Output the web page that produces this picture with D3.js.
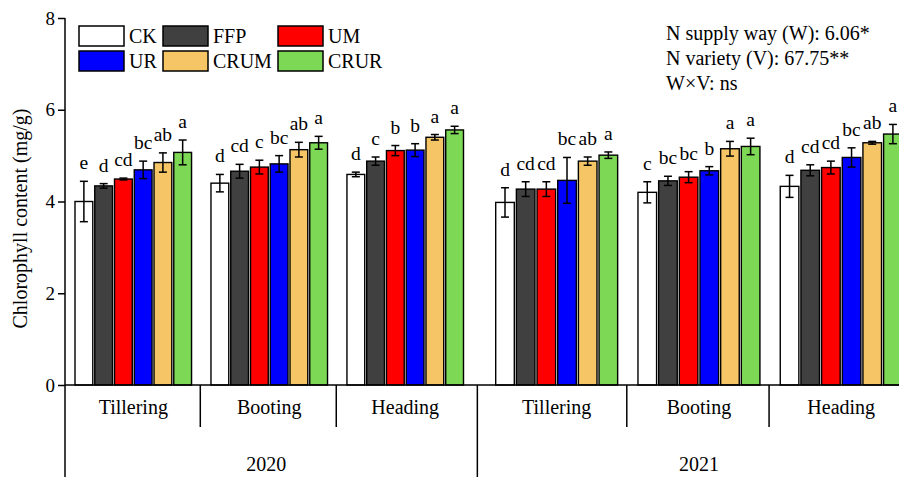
<!DOCTYPE html>
<html>
<head>
<meta charset="utf-8">
<script src="https://cdn.jsdelivr.net/npm/d3@7"></script>
<style>
  html, body { margin: 0; padding: 0; background: #fff; }
  svg { display: block; }
  text { font-family: "Liberation Serif", "Times New Roman", serif; fill: #000; }
</style>
</head>
<body>
<svg id="chart" width="899" height="477"></svg>
<script>
// Chlorophyll content by growth stage, nitrogen treatment and year
const years = ["2020", "2021"];
const stages = ["Tillering", "Booting", "Heading"];
const treatments = ["CK", "FFP", "UM", "UR", "CRUM", "CRUR"];
const colors = ["#ffffff", "#404040", "#ff0000", "#0000ff", "#f5c566", "#7dd856"];
const yTicks = [0, 2, 4, 6, 8];

// mean values (mg/g), rows = stages, columns = treatments
const mean2020 = [
  [4.00, 4.34, 4.49, 4.69, 4.85, 5.07],
  [4.40, 4.66, 4.75, 4.82, 5.13, 5.28],
  [4.59, 4.88, 5.11, 5.12, 5.40, 5.56]
];
const err2020 = [
  [0.44, 0.05, 0.02, 0.19, 0.21, 0.27],
  [0.19, 0.15, 0.15, 0.18, 0.16, 0.14],
  [0.05, 0.09, 0.11, 0.14, 0.06, 0.08]
];
const sig2020 = [
  ["e", "d", "cd", "bc", "ab", "a"],
  ["d", "cd", "c", "bc", "ab", "a"],
  ["d", "c", "b", "b", "a", "a"]
];
const mean2021 = [
  [3.98, 4.27, 4.27, 4.46, 4.88, 5.01],
  [4.20, 4.45, 4.53, 4.67, 5.15, 5.20],
  [4.33, 4.68, 4.74, 4.96, 5.28, 5.47]
];
const err2021 = [
  [0.32, 0.16, 0.16, 0.50, 0.09, 0.07],
  [0.23, 0.10, 0.12, 0.09, 0.16, 0.18],
  [0.24, 0.12, 0.14, 0.21, 0.03, 0.21]
];
const sig2021 = [
  ["d", "cd", "cd", "bc", "ab", "a"],
  ["c", "bc", "bc", "b", "a", "a"],
  ["d", "cd", "cd", "bc", "ab", "a"]
];
const statLines = ["N supply way (W): 6.06*", "N variety (V): 67.75**", "W\u00d7V: ns"];

const svg = d3.select("#chart");
const W = 899, H = 477;
const axisX = 65, baseY = 385;

const y = d3.scaleLinear().domain([0, 8]).range([baseY, 18]);

// each year has its own stage band scale
const yearRanges = [[75, 463.5], [495.7, 902.2]];
const stageScales = yearRanges.map(r =>
  d3.scaleBand().domain(stages).range(r).paddingInner(1 / 7).paddingOuter(0));

const yearData = [
  { year: years[0], mean: mean2020, err: err2020, sig: sig2020 },
  { year: years[1], mean: mean2021, err: err2021, sig: sig2021 }
];

const plot = svg.append("g");

yearData.forEach((yd, yi) => {
  const xs = stageScales[yi];
  const xt = d3.scaleBand().domain(treatments).range([0, xs.bandwidth()]).paddingInner(0.1);
  stages.forEach((st, si) => {
    const g = plot.append("g").attr("transform", `translate(${xs(st)},0)`);
    const rows = treatments.map((t, ti) => ({
      t, ti, v: yd.mean[si][ti], e: yd.err[si][ti], s: yd.sig[si][ti]
    }));
    // bars
    g.selectAll("rect.bar").data(rows).join("rect")
      .attr("class", "bar")
      .attr("x", d => xt(d.t))
      .attr("y", d => y(d.v))
      .attr("width", xt.bandwidth())
      .attr("height", d => baseY - y(d.v))
      .attr("fill", d => colors[d.ti])
      .attr("stroke", "#000")
      .attr("stroke-width", 1.4);
    // error bars
    const eb = g.selectAll("g.err").data(rows).join("g").attr("class", "err")
      .attr("transform", d => `translate(${xt(d.t) + xt.bandwidth() / 2},0)`);
    eb.append("line")
      .attr("y1", d => y(d.v - d.e)).attr("y2", d => y(d.v + d.e))
      .attr("stroke", "#000").attr("stroke-width", 1.5);
    eb.append("line")
      .attr("x1", -4).attr("x2", 4)
      .attr("y1", d => y(d.v + d.e)).attr("y2", d => y(d.v + d.e))
      .attr("stroke", "#000").attr("stroke-width", 1.5);
    eb.append("line")
      .attr("x1", -4).attr("x2", 4)
      .attr("y1", d => y(d.v - d.e)).attr("y2", d => y(d.v - d.e))
      .attr("stroke", "#000").attr("stroke-width", 1.5);
    // significance letters
    eb.append("text")
      .attr("y", d => y(d.v + d.e) - 12)
      .attr("text-anchor", "middle")
      .attr("font-size", 19.5)
      .text(d => d.s);
  });
});

// y axis
const yAxis = d3.axisLeft(y).tickValues(yTicks).tickSize(7).tickPadding(3).tickFormat(d3.format("d"));
const ya = svg.append("g").attr("transform", `translate(${axisX},0)`).call(yAxis);
ya.select(".domain").remove();
ya.selectAll(".tick line").attr("stroke", "#000").attr("stroke-width", 1.5);
ya.selectAll(".tick text")
  .attr("font-family", "Liberation Serif, Times New Roman, serif")
  .attr("font-size", 19).attr("fill", "#000");

svg.append("line")
  .attr("x1", axisX).attr("x2", axisX).attr("y1", y(8)).attr("y2", H)
  .attr("stroke", "#000").attr("stroke-width", 1.5);
svg.append("line")
  .attr("x1", axisX).attr("x2", W).attr("y1", baseY).attr("y2", baseY)
  .attr("stroke", "#000").attr("stroke-width", 1.5);

svg.append("text")
  .attr("transform", `translate(27,${(y(8) + baseY) / 2 + 17}) rotate(-90)`)
  .attr("text-anchor", "middle")
  .attr("font-size", 20)
  .text("Chlorophyll content (mg/g)");

// stage and year category labels with separators
const sepX = [];
stageScales.forEach((xs, yi) => {
  stages.forEach((st, si) => {
    const cx = xs(st) + xs.bandwidth() / 2;
    svg.append("text")
      .attr("x", cx).attr("y", 414)
      .attr("text-anchor", "middle").attr("font-size", 20)
      .text(st);
    if (si > 0) {
      const prevEnd = xs(stages[si - 1]) + xs.bandwidth();
      sepX.push({ x: prevEnd + (xs(st) - prevEnd) * 0.45, full: false });
    }
  });
  const mid = xs(stages[1]) + xs.bandwidth() / 2;
  svg.append("text")
    .attr("x", mid - (yi === 0 ? 3 : 0)).attr("y", 471)
    .attr("text-anchor", "middle").attr("font-size", 20)
    .text(years[yi]);
});
const gapL = stageScales[0].range()[1], gapR = stageScales[1].range()[0];
sepX.push({ x: gapL + (gapR - gapL) * 0.43, full: true });
svg.selectAll("line.sep").data(sepX).join("line")
  .attr("class", "sep")
  .attr("x1", d => d.x).attr("x2", d => d.x)
  .attr("y1", baseY).attr("y2", d => d.full ? H : 427)
  .attr("stroke", "#000").attr("stroke-width", 1.5);

// legend
const legendCols = [79, 163, 278];
const legendRows = [26, 51];
const lg = svg.append("g");
treatments.forEach((t, i) => {
  const cx = legendCols[i % 3], ry = legendRows[Math.floor(i / 3)];
  lg.append("rect")
    .attr("x", cx).attr("y", ry).attr("width", 45).attr("height", 20)
    .attr("fill", colors[i]).attr("stroke", "#000").attr("stroke-width", 1.5);
  lg.append("text")
    .attr("x", cx + 50).attr("y", ry + 17)
    .attr("font-size", 20)
    .text(t);
});

// two-way ANOVA summary
svg.selectAll("text.stat").data(statLines).join("text")
  .attr("class", "stat")
  .attr("x", 666)
  .attr("y", (d, i) => 40 + i * 25)
  .attr("font-size", 20)
  .text(d => d);
</script>
</body>
</html>
